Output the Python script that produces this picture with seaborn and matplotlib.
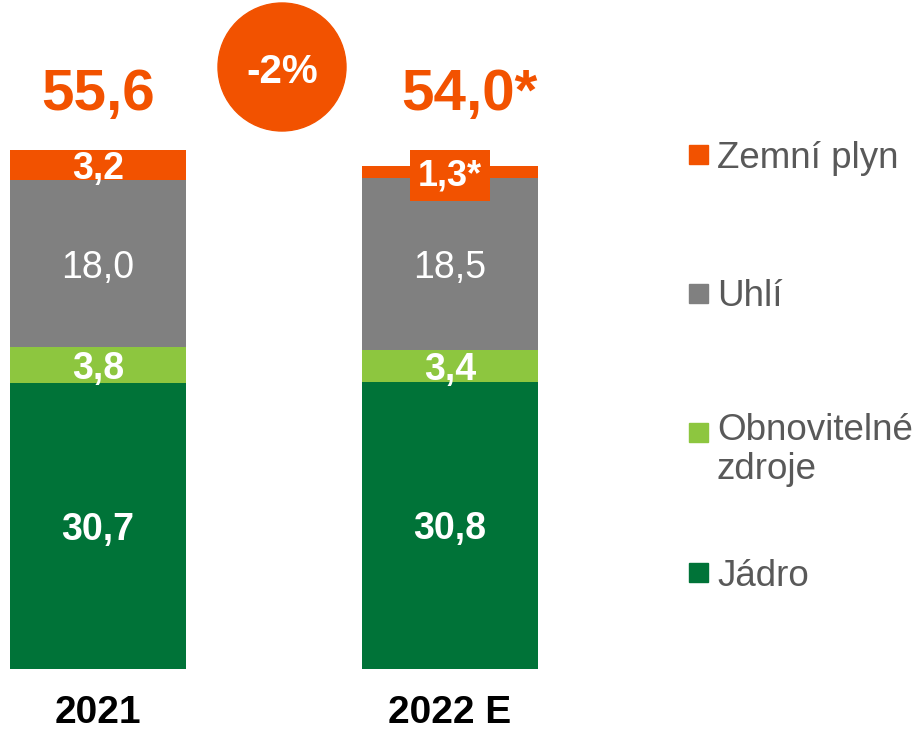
import matplotlib
matplotlib.use("Agg")
import numpy as np
import pandas as pd
import seaborn as sns
import matplotlib.pyplot as plt
from matplotlib.patches import Ellipse, Rectangle

years = ['2021', '2022 E']
jadro = [30.7, 30.8]
obnovitelne = [3.8, 3.4]
uhli = [18.0, 18.5]
plyn = [3.2, 1.3]
totals = ['55,6', '54,0*']
change = '-2%'
legend_names = ['Zemní plyn', 'Uhlí', 'Obnovitelné\nzdroje', 'Jádro']

orange = '#F25200'
gray = '#808080'
light_green = '#8DC63F'
dark_green = '#007338'
text_gray = '#595959'

sns.set_style('white')
plt.rcParams['font.family'] = ['Liberation Sans', 'DejaVu Sans']

data = pd.DataFrame({'Rok': years, 'Jádro': jadro, 'Obnovitelné zdroje': obnovitelne,
                     'Uhlí': uhli, 'Zemní plyn': plyn})
cols = ['Jádro', 'Obnovitelné zdroje', 'Uhlí', 'Zemní plyn']
cum = data[cols].cumsum(axis=1)
cum['Rok'] = data['Rok']

W, H = 917, 734
fig = plt.figure(figsize=(W / 100, H / 100), dpi=100)
ax = fig.add_axes([0, 65 / H, 1, 669 / H])

px_y = 9.32   # pixels per TWh
px_x = 352    # pixels between bars
x0 = 98       # pixel centre of first bar

# stacked bars: draw cumulative tops first, then the lower segments over them
colors = {'Zemní plyn': orange, 'Uhlí': gray, 'Obnovitelné zdroje': light_green, 'Jádro': dark_green}
for col in cols[::-1]:
    sns.barplot(data=cum, x='Rok', y=col, color=colors[col], width=0.5, saturation=1,
                linewidth=0, ax=ax)

ax.set_xlim(-x0 / px_x, (W - x0) / px_x)
ax.set_ylim(0, 669 / px_y)
ax.set_xlabel('')
ax.set_ylabel('')
ax.set_yticks([])
ax.tick_params(axis='x', length=0, pad=19, labelsize=28)
for t in ax.get_xticklabels():
    t.set_fontweight('bold')
    t.set_color('black')
sns.despine(left=True, bottom=True)


def fmt(v):
    return f'{v:.1f}'.replace('.', ',')


# segment labels
for i in range(len(years)):
    base = 0
    for col in cols:
        v = data[col][i]
        mid = base + v / 2
        base += v
        weight = 'normal' if col == 'Uhlí' else 'bold'
        if col == 'Zemní plyn' and i == 1:
            ax.text(i, mid, fmt(v) + '*', ha='center', va='center_baseline', color='white',
                    fontsize=26, fontweight='bold',
                    bbox=dict(boxstyle='square,pad=0.22', fc=orange, ec='none'))
        else:
            ax.text(i, mid, fmt(v), ha='center', va='center_baseline', color='white',
                    fontsize=27, fontweight=weight)

# totals
ax.text(0, (669 - 95) / px_y, totals[0], ha='center', va='center', color=orange,
        fontsize=42, fontweight='bold')
ax.text((469 - x0) / px_x, (669 - 95) / px_y, totals[1], ha='center', va='center',
        color=orange, fontsize=42, fontweight='bold')

# change bubble
ax.add_patch(Ellipse(((282 - x0) / px_x, (669 - 67) / px_y), 128 / px_x, 128 / px_y,
                     color=orange, clip_on=False))
ax.text((282 - x0) / px_x, (669 - 72) / px_y, change, ha='center', va='center',
        color='white', fontsize=29, fontweight='bold')

# legend
leg_colors = [orange, gray, light_green, dark_green]
leg_y = [154, 293, 432, 572]
for name, c, y in zip(legend_names, leg_colors, leg_y):
    fig.add_artist(Rectangle((689 / W, 1 - (y + 9.5) / H), 19 / W, 19 / H,
                             transform=fig.transFigure, color=c))
    if '\n' in name:
        fig.text(717 / W, 1 - (y - 19) / H, name, ha='left', va='top', color=text_gray,
                 fontsize=26.5, linespacing=1.15)
    else:
        fig.text(717 / W, 1 - y / H, name, ha='left', va='center_baseline', color=text_gray,
                 fontsize=26.5)

fig.savefig('out.png', dpi=100)
